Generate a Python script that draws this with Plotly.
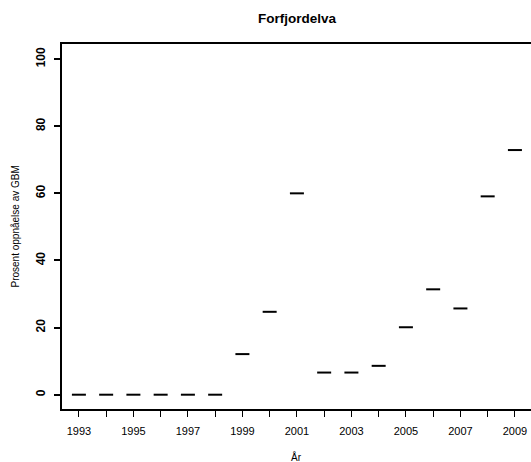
import plotly.graph_objects as go

years = [1993, 1994, 1995, 1996, 1997, 1998, 1999, 2000, 2001, 2002, 2003,
         2004, 2005, 2006, 2007, 2008, 2009]
percent = [0, 0, 0, 0, 0, 0, 12.1, 24.7, 60.0, 6.6, 6.6, 8.6, 20.1, 31.4,
           25.7, 59.1, 72.9]
x_ticks = [1993, 1995, 1997, 1999, 2001, 2003, 2005, 2007, 2009]
y_ticks = [0, 20, 40, 60, 80, 100]

W, H = 531, 462
L, T, B = 62, 44, 53

fig = go.Figure()
fig.add_trace(go.Scatter(
    x=years, y=percent, mode="markers",
    marker=dict(symbol="line-ew", size=10, color="black",
                line=dict(color="black", width=2)),
    showlegend=False, hoverinfo="x+y",
))

font = "Liberation Sans, Arial, sans-serif"
fig.update_layout(
    width=W, height=H,
    margin=dict(l=L, r=0, t=T, b=B, pad=0),
    paper_bgcolor="white", plot_bgcolor="white",
    font=dict(family=font, color="black"),
    title=dict(text="<b>Forfjordelva</b>", x=297 / W, xanchor="center",
               xref="container",
               y=1 - 18 / H, yanchor="middle",
               font=dict(size=13.5, family=font, color="black")),
    xaxis=dict(
        range=[1992.38, 2009.59], tickvals=x_ticks,
        ticktext=[str(v) for v in x_ticks],
        showgrid=False, zeroline=False, automargin=False,
        showline=True, linecolor="black", linewidth=2, mirror=True,
        ticks="outside", ticklen=6, tickwidth=1, tickcolor="black",
        minor=dict(dtick=1, tick0=1993, ticks="outside", ticklen=6,
                   tickwidth=1, tickcolor="black", showgrid=False),
        tickfont=dict(size=11, family=font, color="black"),
        ticklabelstandoff=5,
    ),
    yaxis=dict(
        range=[-4.26, 104.5], tickvals=y_ticks,
        showgrid=False, zeroline=False, automargin=False,
        showline=True, linecolor="black", linewidth=2, mirror=False,
        ticks="outside", ticklen=6, tickwidth=2, tickcolor="black",
        tickangle=-90,
        tickfont=dict(size=12, family=font, color="black", weight="bold"),
        ticklabelstandoff=4,
    ),
    annotations=[
        dict(text="År", xref="paper", yref="paper", x=0.5, y=0,
             xanchor="center", yanchor="middle", yshift=-(457 - (H - B)),
             showarrow=False, font=dict(size=10, family=font, color="black")),
        dict(text="Prosent oppnåelse av GBM", xref="paper", yref="paper",
             x=0, y=0.5, xanchor="center", yanchor="middle",
             xshift=-(L - 15), textangle=-90, showarrow=False,
             font=dict(size=10, family=font, color="black")),
    ],
)

fig.write_html(
    "out.html",
    config={"displayModeBar": False},
    post_script="document.body.style.margin='0';document.body.style.overflow='hidden';",
)
